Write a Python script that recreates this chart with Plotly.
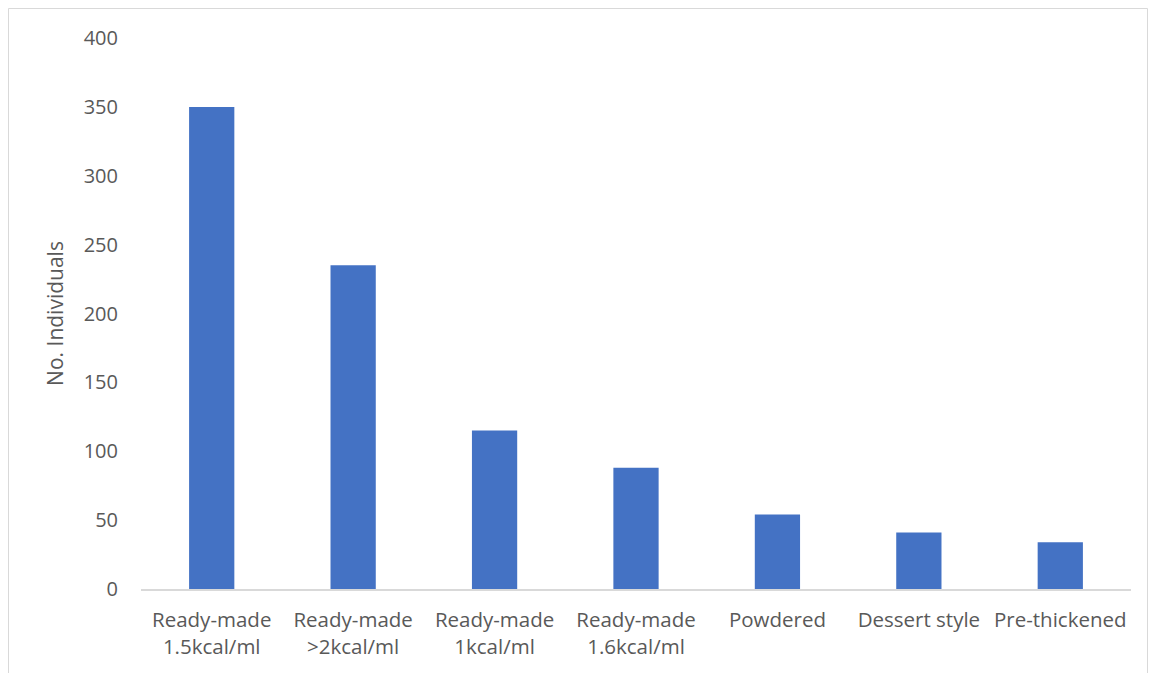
import plotly.graph_objects as go

categories = ["Ready-made<br>1.5kcal/ml", "Ready-made<br>>2kcal/ml", "Ready-made<br>1kcal/ml",
              "Ready-made<br>1.6kcal/ml", "Powdered", "Dessert style", "Pre-thickened"]
values = [350, 235, 115, 88, 54, 41, 34]
y_ticks = [0, 50, 100, 150, 200, 250, 300, 350, 400]

W, H = 1153, 673
L, R, T, B = 141, 22, 38, 84
pw, ph = W - L - R, H - T - B

def px_x(p):
    return (p - L) / pw

def px_y(p):
    return (H - B - p) / ph

fig = go.Figure(go.Bar(x=categories, y=values, marker=dict(color="#4472C4", line=dict(width=0)), width=0.32))

fig.update_layout(
    width=W, height=H,
    margin=dict(l=L, r=R, t=T, b=B),
    paper_bgcolor="white", plot_bgcolor="white",
    font=dict(family="Open Sans", size=20, color="#595959"),
    showlegend=False,
    xaxis=dict(showline=True, linecolor="#D9D9D9", linewidth=1.5, showgrid=False, ticks="",
               tickfont=dict(size=20.5, color="#595959"), ticklabelstandoff=12),
    yaxis=dict(range=[0, 400], tickvals=y_ticks, showgrid=False, zeroline=False, showline=False,
               ticks="", tickfont=dict(size=20, color="#595959"), ticklabelstandoff=22,
               title=dict(text="No. Individuals", font=dict(size=21, color="#595959"), standoff=14)),
    shapes=[dict(type="rect", xref="paper", yref="paper",
                 x0=px_x(8.5), x1=px_x(1147.5), y0=px_y(8.5), y1=px_y(720),
                 line=dict(color="#D9D9D9", width=1), fillcolor="rgba(0,0,0,0)", layer="below")],
)

fig.write_html("out.html")
